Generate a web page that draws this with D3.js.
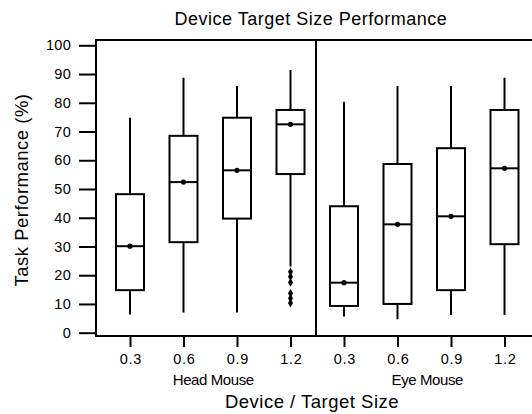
<!DOCTYPE html>
<html>
<head>
<meta charset="utf-8">
<script src="https://cdn.jsdelivr.net/npm/d3@7/dist/d3.min.js"></script>
<style>
  html, body { margin: 0; padding: 0; background: #fff; }
  svg { display: block; }
  text { font-family: "Liberation Sans", Arial, sans-serif; fill: #000; }
</style>
</head>
<body>
<svg id="chart" width="532" height="414"></svg>
<script>
// ---- data ----
const groups = ["Head Mouse", "Eye Mouse"];
const sizes = ["0.3", "0.6", "0.9", "1.2"];
const whiskerLow  = [6.3, 7.0, 7.0, 23.0,   5.6, 4.7, 6.2, 6.2];
const q1          = [14.8, 31.5, 39.7, 55.2, 9.3, 10.0, 14.8, 30.8];
const median      = [30.1, 52.4, 56.5, 72.5, 17.4, 37.7, 40.5, 57.2];
const q3          = [48.2, 68.5, 74.8, 77.5, 44.0, 58.7, 64.2, 77.5];
const whiskerHigh = [74.8, 88.7, 85.8, 91.4, 80.4, 85.8, 85.8, 88.7];
const mean        = [30.1, 52.4, 56.5, 72.5, 17.4, 37.7, 40.5, 57.2];
const outliers    = [[], [], [], [21.2, 19.5, 17.5, 13.7, 12.0, 10.3], [], [], [], []];
const yTicks = [0, 10, 20, 30, 40, 50, 60, 70, 80, 90, 100];

const title = "Device Target Size Performance";
const xTitle = "Device / Target Size";
const yTitle = "Task Performance (%)";

// ---- layout ----
const FONT = "'Liberation Sans', Arial, sans-serif";
const frame = { left: 96, top: 40, bottom: 336, right: 532 };

const cats = [];
groups.forEach((g, gi) => sizes.forEach((s, si) => cats.push({ key: g + "|" + s, group: g, size: s, i: gi * sizes.length + si })));

const x = d3.scalePoint().domain(cats.map(c => c.key)).range([130, 504.5]);
const y = d3.scaleLinear().domain([0, 100]).range([332.7, 45.3]);

const svg = d3.select("#chart");
const g = svg.append("g");

const stroke = "#000", sw = 2;

// frame
g.append("line").attr("x1", frame.left).attr("x2", frame.left).attr("y1", frame.top - 1).attr("y2", frame.bottom + 1)
  .attr("stroke", stroke).attr("stroke-width", sw);
g.append("line").attr("x1", frame.left).attr("x2", frame.right).attr("y1", frame.top).attr("y2", frame.top)
  .attr("stroke", stroke).attr("stroke-width", sw);
g.append("line").attr("x1", frame.left).attr("x2", frame.right).attr("y1", frame.bottom).attr("y2", frame.bottom)
  .attr("stroke", stroke).attr("stroke-width", sw);

// divider between groups
const divX = Math.round((x(cats[3].key) + x(cats[4].key)) / 2) - 1;
g.append("line").attr("x1", divX).attr("x2", divX).attr("y1", frame.top).attr("y2", frame.bottom)
  .attr("stroke", stroke).attr("stroke-width", sw);

// y axis
const yAxis = d3.axisLeft(y).tickValues(yTicks).tickSize(17).tickPadding(8).tickFormat(d3.format("d"));
const ya = g.append("g").attr("transform", `translate(${frame.left},0)`).call(yAxis);
ya.select(".domain").remove();
ya.selectAll(".tick line").attr("stroke", stroke).attr("stroke-width", sw);
ya.selectAll(".tick text").style("font-size", "14.5px").style("letter-spacing", "0.3px")
  .attr("font-family", FONT).attr("fill", "#000");

// x axis
const xAxis = d3.axisBottom(x).tickSize(11).tickPadding(7).tickFormat(k => k.split("|")[1]);
const xa = g.append("g").attr("transform", `translate(0,${frame.bottom})`).call(xAxis);
xa.select(".domain").remove();
xa.selectAll(".tick line").attr("stroke", stroke).attr("stroke-width", sw);
xa.selectAll(".tick text").style("font-size", "14.5px").style("letter-spacing", "0.8px")
  .attr("font-family", FONT).attr("fill", "#000").attr("dx", "0.4px");

// boxes
const bw = 28;
const boxes = g.selectAll(".box").data(cats).enter().append("g").attr("class", "box");
boxes.append("line")
  .attr("x1", d => x(d.key)).attr("x2", d => x(d.key))
  .attr("y1", d => y(whiskerHigh[d.i])).attr("y2", d => y(q3[d.i]))
  .attr("stroke", stroke).attr("stroke-width", sw);
boxes.append("line")
  .attr("x1", d => x(d.key)).attr("x2", d => x(d.key))
  .attr("y1", d => y(q1[d.i])).attr("y2", d => y(whiskerLow[d.i]))
  .attr("stroke", stroke).attr("stroke-width", sw);
boxes.append("rect")
  .attr("x", d => x(d.key) - bw / 2).attr("width", bw)
  .attr("y", d => y(q3[d.i])).attr("height", d => y(q1[d.i]) - y(q3[d.i]))
  .attr("fill", "none").attr("stroke", stroke).attr("stroke-width", sw);
boxes.append("line")
  .attr("x1", d => x(d.key) - bw / 2).attr("x2", d => x(d.key) + bw / 2)
  .attr("y1", d => y(median[d.i])).attr("y2", d => y(median[d.i]))
  .attr("stroke", stroke).attr("stroke-width", sw);
boxes.append("circle")
  .attr("cx", d => x(d.key)).attr("cy", d => y(mean[d.i])).attr("r", 2.6)
  .attr("fill", "#000");
boxes.each(function (d) {
  d3.select(this).selectAll(".out").data(outliers[d.i]).enter().append("path")
    .attr("class", "out")
    .attr("d", d3.symbol().type(d3.symbolDiamond).size(22))
    .attr("transform", v => `translate(${x(d.key)},${y(v)})`)
    .attr("fill", "#000");
});

// group labels
groups.forEach((gn, gi) => {
  const first = x(cats[gi * sizes.length].key), last = x(cats[gi * sizes.length + sizes.length - 1].key);
  svg.append("text").attr("x", (first + last) / 2 + 3).attr("y", 384.5)
    .attr("text-anchor", "middle").attr("font-family", FONT)
    .style("font-size", "15px").style("letter-spacing", "-0.4px").text(gn);
});

// titles
svg.append("text").attr("x", 311).attr("y", 25).attr("text-anchor", "middle").attr("font-family", FONT)
  .style("font-size", "18px").style("letter-spacing", "0.5px").text(title);
svg.append("text").attr("x", 312).attr("y", 408).attr("text-anchor", "middle").attr("font-family", FONT)
  .style("font-size", "18.5px").style("letter-spacing", "0.5px").text(xTitle);
svg.append("text").attr("transform", "translate(28,190) rotate(-90)").attr("text-anchor", "middle").attr("font-family", FONT)
  .style("font-size", "18.5px").style("letter-spacing", "0.5px").text(yTitle);
</script>
</body>
</html>
